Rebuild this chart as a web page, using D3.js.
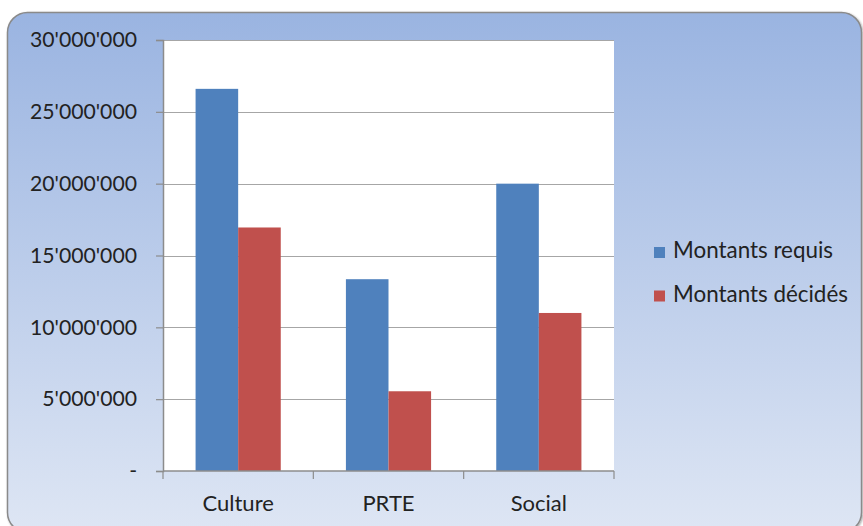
<!DOCTYPE html>
<html>
<head>
<meta charset="utf-8">
<script src="https://cdn.jsdelivr.net/npm/d3@7"></script>
<style>
  body { margin: 0; background: #fff; }
  svg { display: block; }
</style>
</head>
<body>
<div id="chart"></div>
<script>
const categories = ['Culture', 'PRTE', 'Social'];
const seriesNames = ['Montants requis', 'Montants décidés'];
const requis = [26600000, 13350000, 20000000];
const decides = [16950000, 5550000, 11000000];
const yTicks = [0, 5000000, 10000000, 15000000, 20000000, 25000000, 30000000];
const colors = ['#4f81bd', '#c0504d'];

const width = 863;
const height = 526;
const margin = { top: 40, right: 249, bottom: 55, left: 163 };
const font = 'Lato, "Open Sans", sans-serif';

const svg = d3.select('#chart')
  .append('svg')
  .attr('width', width)
  .attr('height', height);

const defs = svg.append('defs');
const grad = defs.append('linearGradient')
  .attr('id', 'bg')
  .attr('x1', 0).attr('y1', 0).attr('x2', 0).attr('y2', 1);
grad.append('stop').attr('offset', '0%').attr('stop-color', '#9ab4e1');
grad.append('stop').attr('offset', '100%').attr('stop-color', '#dee6f4');

const shadow = defs.append('filter').attr('id', 'sh')
  .attr('x', '-5%').attr('y', '-5%').attr('width', '110%').attr('height', '110%');
shadow.append('feDropShadow')
  .attr('dx', 1).attr('dy', 1).attr('stdDeviation', 1.2)
  .attr('flood-color', '#000').attr('flood-opacity', 0.35);

// outer frame
svg.append('rect')
  .attr('x', 7.5).attr('y', 12.5)
  .attr('width', 854).attr('height', 520)
  .attr('rx', 20).attr('ry', 20)
  .attr('fill', 'url(#bg)')
  .attr('stroke', '#8a8a8a')
  .attr('stroke-width', 1.5)
  .attr('filter', 'url(#sh)');

const x0 = d3.scaleBand()
  .domain(categories)
  .range([margin.left, width - margin.right])
  .paddingInner(0)
  .paddingOuter(0);

const x1 = d3.scaleBand()
  .domain(seriesNames)
  .range([0, x0.bandwidth()])
  .paddingOuter(0.765)
  .paddingInner(0);

const y = d3.scaleLinear()
  .domain([0, 30000000])
  .range([height - margin.bottom, margin.top]);

// plot area
svg.append('rect')
  .attr('x', margin.left).attr('y', margin.top)
  .attr('width', width - margin.left - margin.right)
  .attr('height', y(0) - margin.top)
  .attr('fill', '#fff');

// gridlines
svg.append('g')
  .selectAll('line')
  .data(yTicks.filter(d => d > 0))
  .join('line')
    .attr('x1', margin.left)
    .attr('x2', width - margin.right)
    .attr('y1', d => Math.round(y(d)) + 0.5)
    .attr('y2', d => Math.round(y(d)) + 0.5)
    .attr('stroke', '#a6a6a6')
    .attr('stroke-width', 1.2);

const series = [requis, decides];
svg.append('g')
  .selectAll('g')
  .data(categories.map((c, i) => ({ cat: c, vals: series.map((s, j) => ({ name: seriesNames[j], v: s[i], j })) })))
  .join('g')
    .attr('transform', d => `translate(${x0(d.cat)},0)`)
  .selectAll('rect')
  .data(d => d.vals)
  .join('rect')
    .attr('x', d => x1(d.name))
    .attr('y', d => y(d.v))
    .attr('width', x1.bandwidth())
    .attr('height', d => y(0) - y(d.v))
    .attr('fill', d => colors[d.j]);

const fmt = d => d === 0 ? '-' : d3.format(',')(d).replace(/,/g, "'");

function yAxis(g) {
  g.attr('transform', `translate(${margin.left},0)`)
    .call(d3.axisLeft(y).tickValues(yTicks).tickFormat(fmt).tickSize(7).tickPadding(19))
    .attr('font-size', '21.2px')
    .attr('font-family', font);
  g.select('.domain').attr('stroke', '#8c8c8c').attr('stroke-width', 1.5);
  g.selectAll('.tick line').attr('stroke', '#8c8c8c').attr('stroke-width', 1.2);
  g.selectAll('.tick text').attr('fill', '#222');
}

function xAxis(g) {
  g.attr('transform', `translate(0,${y(0)})`)
    .call(d3.axisBottom(x0).tickSize(0).tickPadding(24))
    .attr('font-size', '22px')
    .attr('font-family', font);
  g.select('.domain').remove();
  g.selectAll('.tick text').attr('fill', '#222');
  g.append('line')
    .attr('x1', margin.left).attr('x2', width - margin.right)
    .attr('stroke', '#8c8c8c').attr('stroke-width', 1.5);
  g.selectAll('.sep')
    .data(categories.map(c => x0(c)).concat([x0.range()[1]]))
    .join('line')
      .attr('class', 'sep')
      .attr('x1', d => d).attr('x2', d => d)
      .attr('y1', 0).attr('y2', 8)
      .attr('stroke', '#8c8c8c').attr('stroke-width', 1.2);
}

svg.append('g').call(xAxis);
svg.append('g').call(yAxis);

// legend
const legend = svg.append('g')
  .attr('transform', 'translate(654,240)')
  .attr('font-family', font)
  .attr('font-size', '22.4px');
const item = legend.selectAll('g')
  .data(seriesNames)
  .join('g')
    .attr('transform', (d, i) => `translate(0,${i * 43.5})`);
item.append('rect')
  .attr('x', 0).attr('y', 7)
  .attr('width', 11).attr('height', 11)
  .attr('fill', (d, i) => colors[i]);
item.append('text')
  .attr('x', 19).attr('y', 18)
  .attr('fill', '#222')
  .text(d => d);
</script>
</body>
</html>
